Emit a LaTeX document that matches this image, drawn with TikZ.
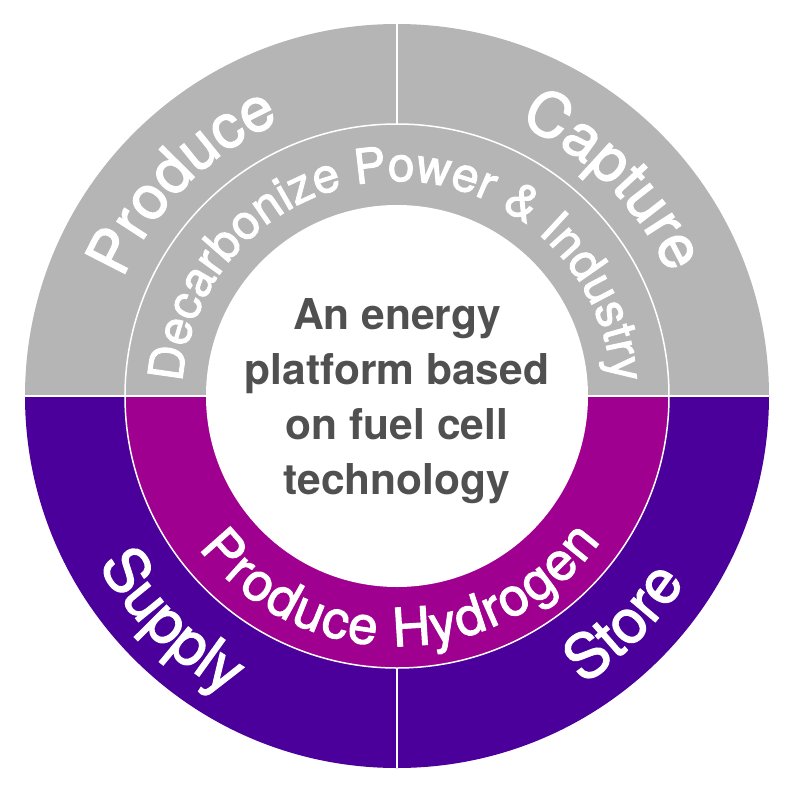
\documentclass[tikz,border=0pt]{standalone}
\usepackage{fontspec}
\setmainfont{TeX Gyre Heros}
\newfontfamily\medfont[FakeBold=2]{TeX Gyre Heros}
\usetikzlibrary{decorations.text}

\definecolor{ringgray}{HTML}{B5B5B5}
\definecolor{ringpurple}{HTML}{4C009B}
\definecolor{ringmagenta}{HTML}{A00090}
\definecolor{textgray}{HTML}{505050}

\newcommand{\outerfont}{\medfont\fontsize{61}{61}\selectfont\color{white}}
\newcommand{\ringfont}{\medfont\fontsize{48}{48}\selectfont\color{white}}
\newcommand{\hydrofont}{\medfont\fontsize{53}{53}\selectfont\color{white}}

\begin{document}
\begin{tikzpicture}[
    ring_label/.style={decorate, decoration={text along path, text align=center, text={#1}}},
    spread_label/.style={decorate, decoration={text along path, text align=fit to path, text={#1}}},
    divider/.style={white, line width=1.5pt},
]

    \useasboundingbox (-397pt,-392pt) rectangle (403pt,396pt);

    \fill[ringgray] (0,0) -- (372pt,0) arc[start angle=0, end angle=180, radius=372pt] -- cycle;
    \fill[ringpurple] (0,0) -- (-372pt,0) arc[start angle=180, end angle=360, radius=372pt] -- cycle;
    \fill[ringmagenta] (0,0) -- (-272pt,0) arc[start angle=180, end angle=360, radius=272pt] -- cycle;
    \fill[white] (0,0) circle[radius=191pt];

    \draw[divider] (0,0) circle[radius=272pt];
    \draw[divider] (-372pt,0) -- (-191pt,0);
    \draw[divider] (191pt,0) -- (372pt,0);
    \draw[divider] (0,272pt) -- (0,372pt);
    \draw[divider] (0,-272pt) -- (0,-372pt);

    \path[ring_label={|\outerfont|Produce}] (180:298pt) arc[start angle=180, end angle=90, radius=298pt];
    \path[ring_label={|\outerfont|Capture}] (90:298pt) arc[start angle=90, end angle=0, radius=298pt];
    \path[ring_label={|\outerfont|Supply}] (180:343pt) arc[start angle=180, end angle=270, radius=343pt];
    \path[ring_label={|\outerfont|Store}] (270:343pt) arc[start angle=270, end angle=360, radius=343pt];

    \path[ring_label={|\ringfont|Decarbonize Power {\&} Industry}] (180:215pt) arc[start angle=180, end angle=0, radius=215pt];
    \path[spread_label={|\hydrofont|Produce Hydrogen}] (217.5:250pt) arc[start angle=217.5, end angle=324.5, radius=250pt];

    \node[align=center, text=textgray, font=\bfseries\fontsize{42.5}{55}\selectfont] (platform) at (0,-5pt)
        {An energy\\platform based\\on fuel cell\\technology};

\end{tikzpicture}
\end{document}
